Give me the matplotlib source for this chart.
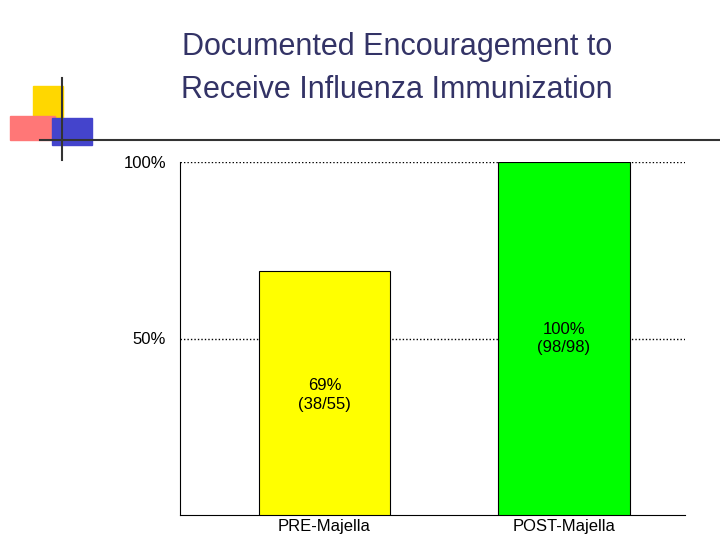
import matplotlib
matplotlib.use("Agg")
import matplotlib.pyplot as plt
from matplotlib.patches import Rectangle
from matplotlib.lines import Line2D

plt.rcParams['font.family'] = ['Liberation Sans', 'DejaVu Sans']

categories = ["PRE-Majella", "POST-Majella"]
values = [69, 100]
labels = ["69%\n(38/55)", "100%\n(98/98)"]
label_y = [34, 50]
colors = ["#FFFF00", "#00FF00"]

fig = plt.figure(figsize=(7.2, 5.4), dpi=100)
W, H = 720, 540
def fx(x): return x / W
def fy(y): return 1 - y / H

# decorative logo
fig.patches.append(Rectangle((fx(33), fy(118)), 30/W, 32/H, transform=fig.transFigure, color="#FFD700", zorder=0))
fig.patches.append(Rectangle((fx(10), fy(140)), 45/W, 24/H, transform=fig.transFigure, color="#FF7777", zorder=1))
fig.patches.append(Rectangle((fx(52), fy(145)), 40/W, 27/H, transform=fig.transFigure, color="#4444CC", zorder=1))
fig.lines.append(Line2D([fx(40), fx(720)], [fy(140), fy(140)], transform=fig.transFigure, color="#333333", lw=1.5))
fig.lines.append(Line2D([fx(62), fx(62)], [fy(78), fy(160)], transform=fig.transFigure, color="#333333", lw=1.5))

fig.text(fx(397), fy(47), "Documented Encouragement to", ha="center", va="center", fontsize=22, color="#333366")
fig.text(fx(397), fy(90), "Receive Influenza Immunization", ha="center", va="center", fontsize=22, color="#333366")

ax = fig.add_axes([fx(180), fy(515), 505/W, 353/H])
x = [0, 1]
ax.bar(x, values, width=0.547, color=colors, edgecolor="black", linewidth=0.8, zorder=3)
for xi, t, yv in zip(x, labels, label_y):
    ax.text(xi, yv, t, ha="center", va="center", fontsize=12, zorder=4, linespacing=1.3)
ax.set_xlim(-0.603, 1.505)
ax.set_ylim(0, 100)
ax.set_yticks([50, 100])
ax.set_yticklabels(["50%", "100%"], fontsize=12)
ax.yaxis.grid(True, linestyle=(0, (1, 1.5)), color="black", linewidth=1, zorder=0)
ax.set_xticks(x)
ax.set_xticklabels(categories, fontsize=12)
ax.tick_params(length=0, pad=3)
ax.tick_params(axis="y", pad=10)
for s in ["top", "right"]:
    ax.spines[s].set_visible(False)
fig.savefig("out.png", dpi=100)
